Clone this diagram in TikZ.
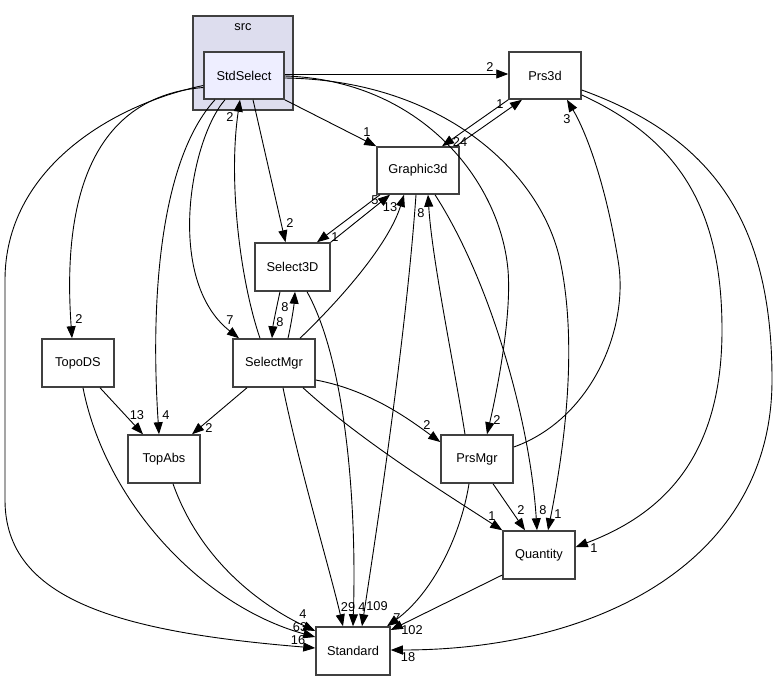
\documentclass[tikz,border=0pt]{standalone}
\usepackage{fontspec}
\setmainfont{Liberation Sans}
\usetikzlibrary{arrows.meta}
\definecolor{bd}{HTML}{404040}
\definecolor{clfill}{HTML}{DDDDEE}
\definecolor{stdfill}{HTML}{EEEEFF}
\begin{document}
\begin{tikzpicture}[x=1pt,y=-1pt,font=\fontsize{12.8}{15}\selectfont,
  box/.style={draw=bd,line width=1.5pt,fill=white,minimum height=47pt,inner sep=0pt},
  lbl/.style={inner sep=0pt},
  edge/.style={line width=0.9pt,-{Triangle[length=12pt,width=9pt]}}]
\useasboundingbox (0,0) rectangle (779,681);
% cluster
\node[draw=bd,fill=clfill,line width=1.5pt,minimum width=100pt,minimum height=94pt,inner sep=0pt] (src) at (243,63) {};
\node[lbl] (srclbl) at (243,27) {src};
% nodes
\node[box,fill=stdfill,minimum width=80pt] (std) at (244,75.5) {StdSelect};
\node[box,minimum width=72pt] (prs) at (545,75.5) {Prs3d};
\node[box,minimum width=82pt] (g3d) at (418,170.5) {Graphic3d};
\node[box,minimum width=75pt,minimum height=48pt] (sel) at (292.5,267) {Select3D};
\node[box,minimum width=82pt,minimum height=48pt] (mgr) at (274,363) {SelectMgr};
\node[box,minimum width=72pt,minimum height=48pt] (tds) at (78,363) {TopoDS};
\node[box,minimum width=72pt,minimum height=48pt] (tab) at (164,459) {TopAbs};
\node[box,minimum width=72pt,minimum height=48pt] (pmg) at (477,459) {PrsMgr};
\node[box,minimum width=72pt,minimum height=48pt] (qty) at (539,555) {Quantity};
\node[box,minimum width=74pt,minimum height=48pt] (stdd) at (353,651) {Standard};
% edges from StdSelect
\draw[edge] ([yshift=1.5pt]std.east) -- ([yshift=1.5pt]prs.west);
\draw[edge] (std.south east) -- (g3d.north west);
\draw[edge] ([xshift=9pt]std.south) -- ([xshift=-7pt]sel.north);
\draw[edge] ([xshift=-19pt]std.south) .. controls (190,140) and (165,280) .. ([xshift=-35pt]mgr.north);
\draw[edge] ([xshift=-14pt]mgr.north) .. controls (240,280) and (228,180) .. ([xshift=-4pt]std.south);
\draw[edge] ([xshift=-29pt]std.south) .. controls (160,160) and (150,300) .. ([xshift=-5pt]tab.north);
\draw[edge] ([yshift=-12pt]std.west) .. controls (110,95) and (60,170) .. ([xshift=-6pt]tds.north);
\draw[edge] ([yshift=-10pt]std.west) .. controls (110,105) and (5,170) .. (5,280) -- (5,500) .. controls (5,600) and (120,632) .. ([yshift=3pt]stdd.west);
\draw[edge] ([yshift=-0.5pt]std.east) .. controls (420,80) and (500,180) .. (508,270) .. controls (512,320) and (495,400) .. ([xshift=10pt]pmg.north);
\draw[edge] ([yshift=-2.5pt]std.east) .. controls (440,80) and (540,170) .. (560,260) .. controls (575,330) and (570,420) .. ([xshift=9pt]qty.north);
% Prs3d / Graphic3d
\draw[edge] (prs.south west) -- ([xshift=24pt]g3d.north);
\draw[edge] ([xshift=-4pt]g3d.north east) -- ([xshift=-23pt]prs.south);
\draw[edge] ([yshift=-19.5pt]prs.east) .. controls (680,140) and (722,210) .. (722,330) .. controls (722,460) and (660,515) .. ([yshift=8pt]qty.east);
\draw[edge] ([yshift=-14.5pt]prs.east) .. controls (720,140) and (772,230) .. (772,380) .. controls (772,560) and (600,650) .. ([yshift=1pt]stdd.east);
\draw[edge] ([yshift=12pt]pmg.east) .. controls (590,420) and (630,330) .. (618,260) .. controls (605,180) and (585,130) .. ([xshift=22pt]prs.south);
% Graphic3d / Select3D / SelectMgr
\draw[edge] ([xshift=-38pt]g3d.south) -- ([xshift=24.5pt]sel.north);
\draw[edge] (sel.north east) -- ([xshift=-28pt]g3d.south);
\draw[edge] ([xshift=26pt]mgr.north) .. controls (350,290) and (390,240) .. ([xshift=-14pt]g3d.south);
\draw[edge] ([xshift=-12pt]pmg.north) .. controls (455,370) and (432,260) .. ([xshift=10pt]g3d.south);
\draw[edge] ([xshift=-2pt]g3d.south) .. controls (405,350) and (372,560) .. ([xshift=9pt]stdd.north);
\draw[edge] ([xshift=17pt]g3d.south) .. controls (490,280) and (530,420) .. ([xshift=-2pt]qty.north);
\draw[edge] ([xshift=-12.5pt]sel.south) .. controls (276,310) and (273,325) .. ([xshift=-2pt]mgr.north);
\draw[edge] ([xshift=14pt]mgr.north) .. controls (292,320) and (294,305) .. ([xshift=2.5pt]sel.south);
\draw[edge] ([xshift=14.5pt]sel.south) .. controls (345,360) and (357,500) .. (stdd.north);
\draw[edge] ([xshift=9pt]mgr.south) .. controls (300,470) and (330,570) .. ([xshift=-10pt]stdd.north);
\draw[edge] ([xshift=-27pt]mgr.south) -- ([xshift=28pt]tab.north);
\draw[edge] ([yshift=-17pt]mgr.east) .. controls (370,390) and (410,420) .. ([yshift=17pt]pmg.west);
\draw[edge] ([xshift=29pt]mgr.south) .. controls (360,440) and (440,490) .. (qty.north west);
% TopoDS / TopAbs
\draw[edge] ([xshift=22pt]tds.south) -- ([xshift=-21pt]tab.north);
\draw[edge] ([xshift=5pt]tds.south) .. controls (105,500) and (200,605) .. ([yshift=14pt]stdd.west);
\draw[edge] ([xshift=9pt]tab.south) .. controls (200,560) and (260,605) .. ([yshift=20pt]stdd.west);
% PrsMgr / Quantity
\draw[edge] ([xshift=16pt]pmg.south) -- ([xshift=-14pt]qty.north);
\draw[edge] ([xshift=-8pt]pmg.south) .. controls (460,540) and (430,595) .. ([xshift=34pt]stdd.north);
\draw[edge] ([yshift=-20pt]qty.west) -- ([yshift=21pt]stdd.east);
% labels
\node[lbl] (l1) at (490,67) {2};
\node[lbl] (l2) at (367,132) {1};
\node[lbl] (l3) at (290,223) {2};
\node[lbl] (l4) at (230,320) {7};
\node[lbl] (l5) at (230,117) {2};
\node[lbl] (l6) at (166,415) {4};
\node[lbl] (l7) at (79,319) {2};
\node[lbl] (l8) at (298,640) {16};
\node[lbl] (l9) at (497,420) {2};
\node[lbl] (l10) at (558,514) {1};
\node[lbl] (l11) at (460,142) {24};
\node[lbl] (l12) at (500,104) {1};
\node[lbl] (l13) at (594,548) {1};
\node[lbl] (l14) at (408,657) {18};
\node[lbl] (l15) at (567,119) {3};
\node[lbl] (l16) at (335,237) {1};
\node[lbl] (l17) at (375,200) {5};
\node[lbl] (l18) at (390,207) {13};
\node[lbl] (l19) at (421,213) {8};
\node[lbl] (l20) at (377,606) {109};
\node[lbl] (l21) at (543,510) {8};
\node[lbl] (l22) at (280,322) {8};
\node[lbl] (l23) at (285,307) {8};
\node[lbl] (l24) at (362,607) {4};
\node[lbl] (l25) at (348,607) {29};
\node[lbl] (l26) at (209,428) {2};
\node[lbl] (l27) at (427,425) {2};
\node[lbl] (l28) at (492,516) {1};
\node[lbl] (l29) at (137,415) {13};
\node[lbl] (l30) at (300,627) {63};
\node[lbl] (l31) at (303,614) {4};
\node[lbl] (l32) at (521,510) {2};
\node[lbl] (l33) at (397,618) {7};
\node[lbl] (l34) at (412,630) {102};
\end{tikzpicture}
\end{document}
